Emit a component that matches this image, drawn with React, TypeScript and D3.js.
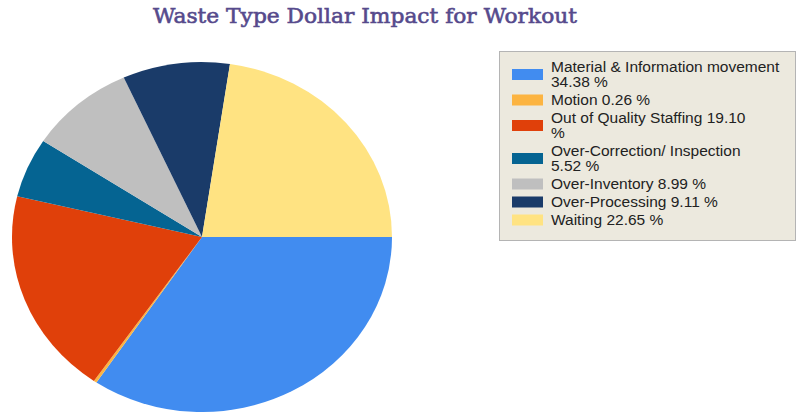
import React, { useEffect, useRef } from 'react'
import * as d3 from 'd3'

// Chart data
const categories = [
  'Material & Information movement',
  'Motion',
  'Out of Quality Staffing',
  'Over-Correction/ Inspection',
  'Over-Inventory',
  'Over-Processing',
  'Waiting',
]
const percents = [34.38, 0.26, 19.1, 5.52, 8.99, 9.11, 22.65]
const colors = ['#418cf0', '#fcb441', '#e0400a', '#056492', '#bfbfbf', '#1a3b69', '#ffe382']
// legend text lines, as wrapped in the original
const legendLines = [
  ['Material & Information movement', '34.38 %'],
  ['Motion 0.26 %'],
  ['Out of Quality Staffing 19.10', '%'],
  ['Over-Correction/ Inspection', '5.52 %'],
  ['Over-Inventory 8.99 %'],
  ['Over-Processing 9.11 %'],
  ['Waiting 22.65 %'],
]
const title = 'Waste Type Dollar Impact for Workout'

export default function App() {
  const svgRef = useRef<SVGSVGElement>(null)

  useEffect(() => {
    const svg = d3.select(svgRef.current)
    svg.selectAll('*').remove()

    // Title
    svg.append('text')
      .attr('x', 365)
      .attr('y', 23)
      .attr('text-anchor', 'middle')
      .attr('font-family', 'DejaVu Serif')
      .attr('font-size', 21)
      .attr('textLength', 424)
      .attr('lengthAdjust', 'spacingAndGlyphs')
      .attr('fill', '#564a8c')
      .attr('stroke', '#564a8c')
      .attr('stroke-width', 0.6)
      .text(title)

    // Pie (slightly squashed ellipse)
    const rx = 190, ry = 175
    const data = categories.map((c, i) => ({ name: c, value: percents[i], color: colors[i] }))
    const pie = d3.pie<any>().sort(null).value(d => d.value)
      .startAngle(Math.PI / 2).endAngle(Math.PI / 2 + 2 * Math.PI)
    const arc = d3.arc<any>().innerRadius(0).outerRadius(rx)

    const g = svg.append('g')
      .attr('transform', `translate(202,237) scale(1,${ry / rx})`)
    g.selectAll('path')
      .data(pie(data))
      .enter().append('path')
      .attr('d', arc)
      .attr('fill', d => d.data.color)

    // Legend
    const lx = 499, ly = 51
    const legend = svg.append('g')
    legend.append('rect')
      .attr('x', lx + 0.5).attr('y', ly + 0.5)
      .attr('width', 296).attr('height', 189)
      .attr('fill', '#ece9de')
      .attr('stroke', '#b4b4b4')

    let y = 67
    legendLines.forEach((lines, i) => {
      const center = y + (lines.length - 1) * 7.5
      legend.append('rect')
        .attr('x', 512).attr('y', center - 5.5)
        .attr('width', 31).attr('height', 11)
        .attr('fill', colors[i])
      lines.forEach((t, j) => {
        legend.append('text')
          .attr('x', 551)
          .attr('y', y + j * 15)
          .attr('dy', '0.35em')
          .attr('font-family', 'Liberation Sans, Arial, sans-serif')
          .attr('font-size', 15.5)
          .attr('fill', '#222')
          .text(t)
      })
      y += 18 + (lines.length - 1) * 15
    })
  }, [])

  return (
    <div style={{ position: 'absolute', left: 0, top: 0 }}>
      <svg ref={svgRef} width={801} height={412} style={{ display: 'block', background: '#fff' }} />
    </div>
  )
}
